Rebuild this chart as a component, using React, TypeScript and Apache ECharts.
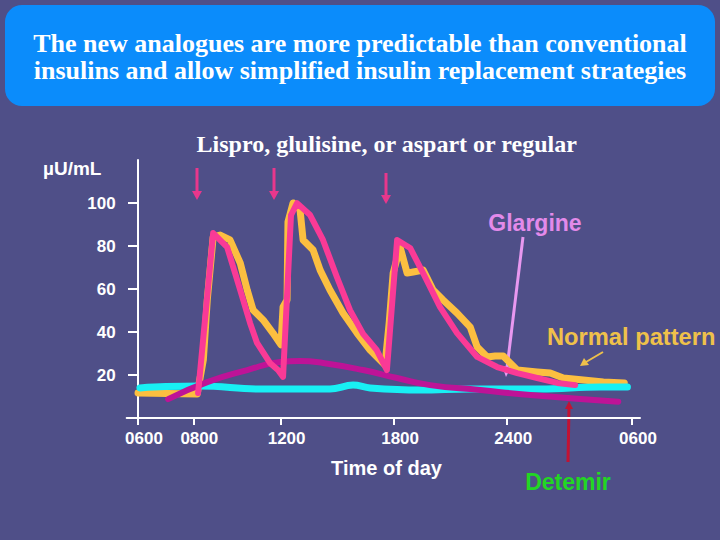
import React, { useEffect, useRef } from 'react';
import * as echarts from 'echarts';

// Time axis (hours after 06:00) and where the slide puts each tick on its (non-linear) time scale
const TICK_HOURS = [0, 2, 6, 12, 18, 24];
const TICK_SCALE = [0, 55.3, 142.6, 256.1, 369.2, 494];
const TICK_LABELS = ['0600', '0800', '1200', '1800', '2400', '0600'];
const Y_TICKS = [20, 40, 60, 80, 100];

// Normal pattern (yellow)
const NORMAL_H = [0, 2.18, 2.46, 2.64, 2.91, 3.23, 3.68, 4.15, 4.47, 4.74, 5.2, 5.65, 6.02, 6.13, 6.34, 6.39, 6.66, 7.03, 7.19, 7.72, 8.09, 8.61, 9.3, 10.04, 10.73, 11.52, 11.74, 11.95, 12.32, 12.69, 13.01, 13.54, 14.07, 14.6, 15.34, 16.04, 16.41, 16.94, 17.36, 17.79, 18.48, 19.44, 20.07, 20.7, 21.66, 22.62, 23.63];
const NORMAL_V = [11.6, 11.2, 27.0, 54.9, 84.2, 85.1, 82.8, 72.1, 59.5, 50.2, 45.6, 39.5, 34.0, 51.6, 54.9, 91.2, 100.0, 96.7, 82.8, 78.1, 68.8, 59.5, 48.8, 39.5, 31.6, 24.7, 44.2, 67.4, 79.5, 67.4, 67.9, 68.8, 59.5, 54.9, 48.8, 42.3, 33.0, 28.4, 28.8, 28.8, 22.3, 21.4, 20.9, 18.6, 17.7, 16.7, 16.3];

// Glargine (cyan)
const GLARGINE_H = [0.07, 1.0, 2.32, 5.06, 8.61, 9.83, 10.73, 13.38, 16.04, 19.59, 22.48, 23.78];
const GLARGINE_V = [14.0, 14.6, 14.9, 13.5, 13.5, 15.3, 14.0, 13.0, 13.5, 13.5, 14.4, 14.4];

// Detemir (dark magenta)
const DETEMIR_H = [1.09, 2.64, 4.47, 5.97, 7.03, 8.24, 10.36, 12.16, 13.91, 16.57, 19.11, 23.34];
const DETEMIR_V = [8.8, 16.7, 22.3, 26.0, 26.5, 25.6, 22.3, 18.6, 15.3, 13.0, 10.7, 7.6];

// Rapid-acting analogue + basal (pink)
const ANALOGUE_H = [2.22, 2.91, 3.55, 4.15, 4.6, 4.92, 5.51, 5.88, 6.13, 6.55, 6.87, 7.56, 8.24, 8.97, 9.67, 10.36, 11.08, 11.62, 12.16, 12.85, 13.54, 14.44, 15.34, 16.41, 17.47, 18.48, 19.44, 20.41, 21.27];
const ANALOGUE_V = [11.6, 86.0, 79.5, 59.5, 44.2, 34.9, 25.6, 22.3, 19.1, 94.4, 99.9, 94.4, 82.8, 65.7, 50.2, 39.1, 31.6, 22.3, 82.8, 79.1, 67.4, 51.6, 39.5, 28.4, 23.7, 20.9, 18.6, 16.3, 15.3];

function timeScale(h: number): number {
  for (let i = 0; i < TICK_HOURS.length - 1; i++) {
    if (h <= TICK_HOURS[i + 1] || i === TICK_HOURS.length - 2) {
      const t = (h - TICK_HOURS[i]) / (TICK_HOURS[i + 1] - TICK_HOURS[i]);
      return TICK_SCALE[i] + t * (TICK_SCALE[i + 1] - TICK_SCALE[i]);
    }
  }
  return 0;
}

const pts = (hs: number[], vs: number[]) => hs.map((h, i) => [timeScale(h), vs[i]]);

const SANS = '"Liberation Sans", Arial, Helvetica, sans-serif';
const SERIF = '"Liberation Serif", "Times New Roman", serif';

export default function App() {
  const ref = useRef<HTMLDivElement>(null);

  useEffect(() => {
    if (!ref.current) return;
    const chart = echarts.init(ref.current, undefined, { renderer: 'svg' });

    const labelFor = (v: number) => {
      let best = 0;
      for (let i = 0; i < TICK_SCALE.length; i++) {
        if (Math.abs(TICK_SCALE[i] - v) < Math.abs(TICK_SCALE[best] - v)) best = i;
      }
      return TICK_LABELS[best];
    };

    const pinkArrow = (x: number, y1: number, y2: number) => [
      { type: 'line', shape: { x1: x, y1, x2: x, y2: y2 - 7 }, style: { stroke: '#E8378C', lineWidth: 3 } },
      { type: 'polygon', shape: { points: [[x - 5, y2 - 9], [x + 5, y2 - 9], [x, y2]] }, style: { fill: '#E8378C' } },
    ];

    const option: any = {
      animation: false,
      backgroundColor: '#4F4F88',
      grid: { left: 126.7, right: 80, top: 160, bottom: 122, containLabel: false, outerBoundsMode: 'none' },
      xAxis: {
        type: 'value',
        min: -11.3,
        max: 502,
        splitLine: { show: false },
        axisLine: { show: true, onZero: true, lineStyle: { color: '#ffffff', width: 2 } },
        axisTick: { show: true, customValues: TICK_SCALE, length: 7, lineStyle: { color: '#ffffff', width: 2 } },
        axisLabel: {
          customValues: TICK_SCALE,
          formatter: (v: number) => labelFor(v),
          color: '#ffffff',
          fontSize: 17,
          fontWeight: 'bold',
          fontFamily: SANS,
          margin: 12,
          padding: [0, 0, 0, 12],
        },
      },
      yAxis: {
        type: 'value',
        min: 0,
        max: 120,
        splitLine: { show: false },
        axisLine: { show: true, onZero: true, lineStyle: { color: '#ffffff', width: 2 } },
        axisTick: { show: true, customValues: Y_TICKS, length: 10, lineStyle: { color: '#ffffff', width: 2 } },
        axisLabel: {
          customValues: Y_TICKS,
          color: '#ffffff',
          fontSize: 17,
          fontWeight: 'bold',
          fontFamily: SANS,
          margin: 11,
        },
      },
      series: [
        {
          name: 'Normal pattern', type: 'line', data: pts(NORMAL_H, NORMAL_V), symbol: 'none',
          lineStyle: { color: '#FCBF40', width: 7, join: 'round', cap: 'round' },
        },
        {
          name: 'Glargine', type: 'line', data: pts(GLARGINE_H, GLARGINE_V), symbol: 'none', smooth: 0.4,
          lineStyle: { color: '#18F0F4', width: 7, join: 'round', cap: 'round' },
        },
        {
          name: 'Detemir', type: 'line', data: pts(DETEMIR_H, DETEMIR_V), symbol: 'none', smooth: 0.5,
          lineStyle: { color: '#BE1397', width: 6, join: 'round', cap: 'round' },
        },
        {
          name: 'Analogue', type: 'line', data: pts(ANALOGUE_H, ANALOGUE_V), symbol: 'none',
          lineStyle: { color: '#FA3A96', width: 6, join: 'round', cap: 'round' },
        },
      ],
      graphic: [
        { type: 'rect', shape: { x: 5, y: 5, width: 710, height: 101, r: 17 }, style: { fill: '#0B8CFB' } },
        {
          type: 'text', x: 360, y: 43.5,
          style: { text: 'The new analogues are more predictable than conventional', fill: '#ffffff', font: `bold 26px ${SERIF}`, textAlign: 'center', textVerticalAlign: 'middle' },
        },
        {
          type: 'text', x: 360, y: 70.5,
          style: { text: 'insulins and allow simplified insulin replacement strategies', fill: '#ffffff', font: `bold 26px ${SERIF}`, textAlign: 'center', textVerticalAlign: 'middle' },
        },
        {
          type: 'text', x: 386.7, y: 143.5,
          style: { text: 'Lispro, glulisine, or aspart or regular', fill: '#ffffff', font: `bold 24px ${SERIF}`, textAlign: 'center', textVerticalAlign: 'middle' },
        },
        {
          type: 'text', x: 43, y: 168,
          style: { text: 'µU/mL', fill: '#ffffff', font: `bold 19px ${SANS}`, textAlign: 'left', textVerticalAlign: 'middle' },
        },
        ...pinkArrow(197, 168, 200),
        ...pinkArrow(274, 168, 200),
        ...pinkArrow(386, 173, 204),
        {
          type: 'text', x: 535, y: 223,
          style: { text: 'Glargine', fill: '#E38AEA', font: `bold 23px ${SANS}`, textAlign: 'center', textVerticalAlign: 'middle' },
        },
        { type: 'line', shape: { x1: 523, y1: 237, x2: 507, y2: 368 }, style: { stroke: '#E898F0', lineWidth: 3 } },
        { type: 'polygon', shape: { points: [[502, 366], [511, 367], [506, 377]] }, style: { fill: '#E898F0' } },
        {
          type: 'text', x: 547, y: 337,
          style: { text: 'Normal pattern', fill: '#EFC14A', font: `bold 23.7px ${SANS}`, textAlign: 'left', textVerticalAlign: 'middle' },
        },
        { type: 'line', shape: { x1: 603, y1: 352, x2: 586, y2: 362 }, style: { stroke: '#EFC14A', lineWidth: 2 } },
        { type: 'polygon', shape: { points: [[580, 366], [584, 358], [589, 365]] }, style: { fill: '#EFC14A' } },
        {
          type: 'text', x: 386.5, y: 468,
          style: { text: 'Time of day', fill: '#ffffff', font: `bold 20px ${SANS}`, textAlign: 'center', textVerticalAlign: 'middle' },
        },
        { type: 'line', shape: { x1: 568, y1: 462, x2: 569, y2: 407 }, style: { stroke: '#C21233', lineWidth: 3 } },
        { type: 'polygon', shape: { points: [[565, 409], [573, 409], [569, 401]] }, style: { fill: '#C21233' } },
        {
          type: 'text', x: 568, y: 482,
          style: { text: 'Detemir', fill: '#22D624', font: `bold 23px ${SANS}`, textAlign: 'center', textVerticalAlign: 'middle' },
        },
      ],
    };

    chart.setOption(option);
    return () => chart.dispose();
  }, []);

  return <div ref={ref} style={{ position: 'fixed', left: 0, top: 0, width: 720, height: 540 }} />;
}
